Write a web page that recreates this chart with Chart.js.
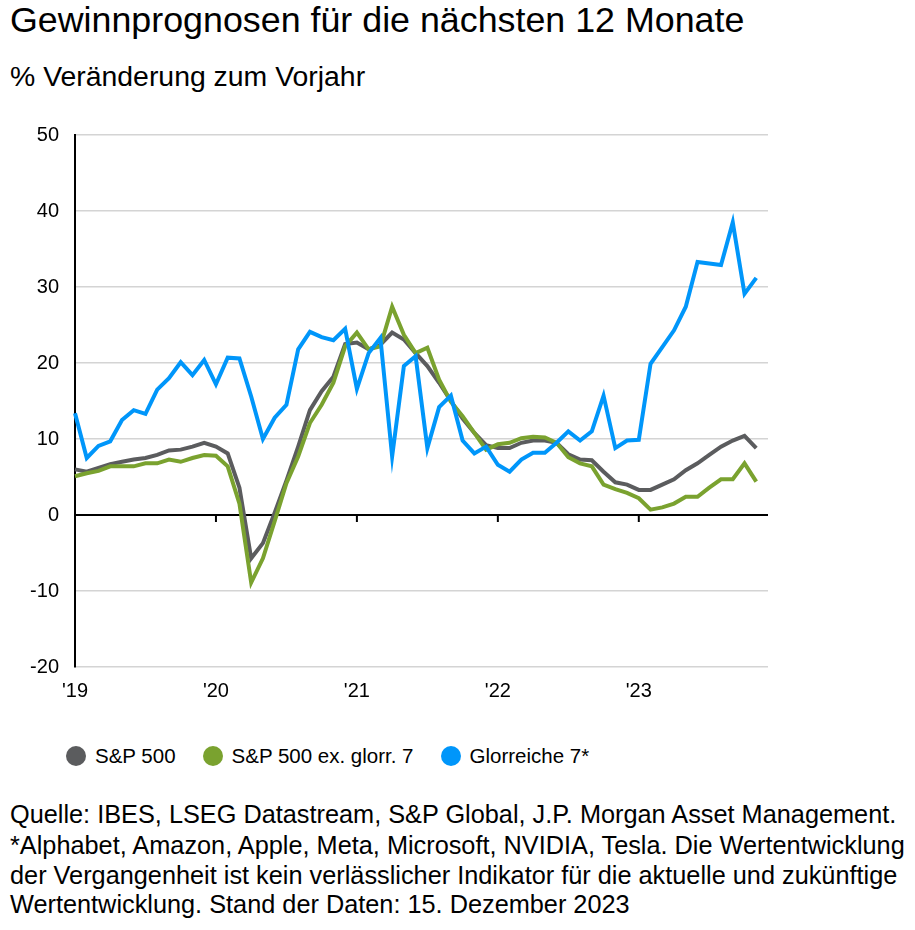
<!DOCTYPE html>
<html>
<head>
<meta charset="utf-8">
<script src="https://cdn.jsdelivr.net/npm/chart.js@4.4.1/dist/chart.umd.min.js"></script>
<style>
  body { margin: 0; width: 915px; height: 930px; background: #fff; position: relative; font-family: "Liberation Sans", Arial, sans-serif; color: #000; }
  .t { position: absolute; left: 10px; white-space: nowrap; line-height: 1; }
  #title { top: 3px; font-size: 35.8px; }
  #sub { top: 62px; font-size: 28.4px; }
  #wrap { position: absolute; left: 0; top: 100px; }
  #legend { position: absolute; left: 66px; top: 744px; display: flex; align-items: center; font-size: 20.5px; white-space: nowrap; }
  #legend .it { display: flex; align-items: center; margin-right: 27px; }
  #legend .dot { width: 20px; height: 20px; border-radius: 50%; margin-right: 9px; }
  .fn { position: absolute; left: 10px; font-size: 25.3px; white-space: nowrap; line-height: 1; }
</style>
</head>
<body>
<div class="t" id="title">Gewinnprognosen für die nächsten 12 Monate</div>
<div class="t" id="sub">% Veränderung zum Vorjahr</div>
<div id="wrap"><canvas id="chart" width="780" height="610"></canvas></div>
<div id="legend"></div>
<div class="fn" style="top:802px">Quelle: IBES, LSEG Datastream, S&amp;P Global, J.P. Morgan Asset Management.</div>
<div class="fn" style="top:833px">*Alphabet, Amazon, Apple, Meta, Microsoft, NVIDIA, Tesla. Die Wertentwicklung</div>
<div class="fn" style="top:863px">der Vergangenheit ist kein verlässlicher Indikator für die aktuelle und zukünftige</div>
<div class="fn" style="top:892px">Wertentwicklung. Stand der Daten: 15. Dezember 2023</div>

<script>
// Monatswerte Jan 2019 - Dez 2023 (Dez noch leer)
const years = ['19', '20', '21', '22', '23'];
const months = [];
years.forEach(y => { for (let m = 1; m <= 12; m++) months.push(y + '-' + m); });

const yearLabels = ["'19", "'20", "'21", "'22", "'23"];

const sp500 = [6.0, 5.7, 6.2, 6.7, 7.0, 7.3, 7.5, 7.9, 8.5, 8.6, 9.0, 9.5,
  9.0, 8.1, 3.6, -5.7, -3.7, 0.3, 4.5, 9.0, 13.8, 16.3, 18.2, 22.5,
  22.7, 21.8, 22.4, 24.0, 23.1, 21.3, 19.6, 17.4, 15.0, 12.7, 10.8, 9.2,
  8.8, 8.8, 9.5, 9.8, 9.8, 9.5, 8.0, 7.3, 7.2, 5.7, 4.3, 4.0,
  3.3, 3.3, 4.0, 4.7, 5.9, 6.8, 7.9, 9.0, 9.8, 10.4, 8.8, null];

const spExGlorr = [5.1, 5.5, 5.8, 6.4, 6.4, 6.4, 6.8, 6.8, 7.3, 7.0, 7.5, 7.9,
  7.8, 6.4, 1.5, -8.9, -5.7, -0.8, 4.2, 7.7, 12.1, 14.5, 17.4, 22.2,
  24.0, 21.8, 22.2, 27.4, 23.7, 21.3, 22.0, 17.8, 14.9, 13.0, 10.8, 8.6,
  9.3, 9.5, 10.1, 10.3, 10.2, 9.5, 7.6, 6.8, 6.4, 4.0, 3.4, 2.9,
  2.2, 0.7, 1.0, 1.5, 2.4, 2.4, 3.6, 4.7, 4.7, 6.8, 4.4, null];

const glorr7 = [13.4, 7.5, 9.1, 9.7, 12.5, 13.8, 13.3, 16.5, 18.0, 20.1, 18.4, 20.4,
  17.2, 20.7, 20.6, 15.6, 10.0, 12.8, 14.5, 21.8, 24.1, 23.4, 23.0, 24.5,
  16.6, 21.3, 23.3, 7.7, 19.6, 20.9, 8.8, 14.2, 15.7, 9.8, 8.1, 9.0,
  6.6, 5.7, 7.3, 8.2, 8.2, 9.5, 11.0, 9.8, 11.0, 15.7, 8.8, 9.8,
  9.9, 19.9, 22.1, 24.3, 27.4, 33.3, 33.1, 32.9, 38.5, 29.1, 31.2, null];

const seriesNames = ['S&P 500', 'S&P 500 ex. glorr. 7', 'Glorreiche 7*'];
const seriesColors = ['#5b5c5e', '#7aa22f', '#0096fa'];

// legende
const legend = document.getElementById('legend');
seriesNames.forEach((n, i) => {
  const it = document.createElement('div');
  it.className = 'it';
  it.innerHTML = '<span class="dot" style="background:' + seriesColors[i] + '"></span>' + n.replace('&', '&amp;');
  legend.appendChild(it);
});

// kleine Jahresstriche an der Nulllinie
const yearTicks = {
  id: 'yearTicks',
  afterDraw(chart) {
    const x = chart.scales.x, y = chart.scales.y;
    const ctx = chart.ctx;
    const y0 = y.getPixelForValue(0);
    ctx.save();
    ctx.strokeStyle = '#000';
    ctx.lineWidth = 2;
    months.forEach((m, i) => {
      if (i % 12 !== 0) return;
      const px = x.getPixelForValue(i);
      ctx.beginPath();
      ctx.moveTo(px, y0);
      ctx.lineTo(px, y0 + 7);
      ctx.stroke();
    });
    ctx.restore();
  }
};

const mk = (i, d, order) => ({
  label: seriesNames[i], data: d, borderColor: seriesColors[i], backgroundColor: seriesColors[i],
  borderWidth: 4, pointRadius: 0, tension: 0, order: order
});

new Chart(document.getElementById('chart').getContext('2d'), {
  type: 'line',
  data: {
    labels: months,
    datasets: [mk(0, sp500, 3), mk(1, spExGlorr, 2), mk(2, glorr7, 1)]
  },
  options: {
    responsive: false,
    animation: false,
    layout: { padding: { top: 35, right: 12, left: 0, bottom: 0 } },
    plugins: { legend: { display: false }, tooltip: { enabled: false } },
    scales: {
      x: {
        offset: false,
        grid: { display: false, drawTicks: false },
        border: { display: false },
        ticks: {
          autoSkip: false, maxRotation: 0, padding: 12, color: '#000',
          font: { family: 'Liberation Sans', size: 20 },
          callback: (v, i) => i % 12 === 0 ? yearLabels[i / 12] : ''
        },
        afterFit: s => { s.height = 43; }
      },
      y: {
        min: -20, max: 50,
        grid: {
          drawTicks: false,
          color: c => c.tick.value === 0 ? '#000' : '#d4d4d4',
          lineWidth: c => c.tick.value === 0 ? 2 : 1.5
        },
        border: { display: true, color: '#000', width: 2 },
        ticks: { stepSize: 10, padding: 16, color: '#000', font: { family: 'Liberation Sans', size: 20 } },
        afterFit: s => { s.width = 75; }
      }
    }
  },
  plugins: [yearTicks]
});
</script>
</body>
</html>
